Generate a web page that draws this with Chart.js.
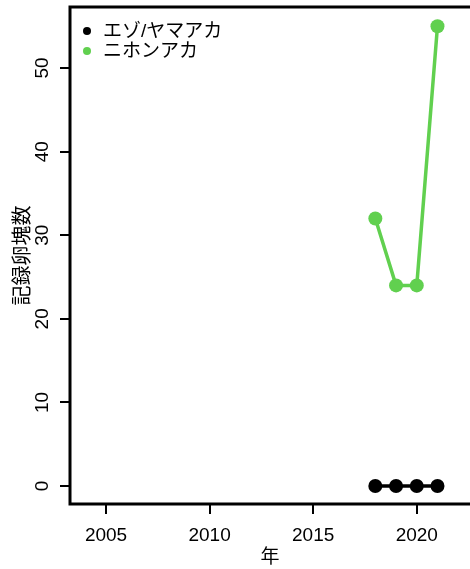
<!DOCTYPE html>
<html>
<head>
<meta charset="utf-8">
<script src="https://cdn.jsdelivr.net/npm/chart.js@4/dist/chart.umd.min.js"></script>
<style>
  body { margin: 0; background: #fff; }
  canvas { display: block; }
</style>
</head>
<body>
<canvas id="myChart" width="470" height="569"></canvas>
<script>
const years = [2018, 2019, 2020, 2021];
const ezoYamaaka = [0, 0, 0, 0];
const nihonAkagaeru = [32, 24, 24, 55];
const seriesNames = ["エゾ/ヤマアカ", "ニホンアカ"];
const seriesColors = ["#000000", "#61D04F"];
const xTicks = [2005, 2010, 2015, 2020];
const yTicks = [0, 10, 20, 30, 40, 50];

const font = "'Liberation Sans', 'Noto Sans CJK JP', sans-serif";

function toPoints(vals) {
    return years.map((y, i) => ({ x: y, y: vals[i] }));
}

// box on left, top, bottom + rotated y labels + legend
const rPlot = {
    id: "rPlot",
    afterDraw(chart) {
        const ctx = chart.ctx;
        const a = chart.chartArea;
        ctx.save();
        ctx.strokeStyle = "#000";
        ctx.lineWidth = 3;
        ctx.beginPath();
        ctx.moveTo(a.right + 2, a.top);
        ctx.lineTo(a.left, a.top);
        ctx.lineTo(a.left, a.bottom);
        ctx.lineTo(a.right + 2, a.bottom);
        ctx.stroke();

        // y tick labels, rotated like R
        const ys = chart.scales.y;
        ctx.fillStyle = "#000";
        ctx.font = "19px " + font;
        ctx.textAlign = "center";
        ctx.textBaseline = "middle";
        yTicks.forEach(v => {
            ctx.save();
            ctx.translate(43, ys.getPixelForValue(v));
            ctx.rotate(-Math.PI / 2);
            ctx.fillText(String(v), 0, 0);
            ctx.restore();
        });

        // legend
        ctx.textAlign = "left";
        seriesNames.forEach((name, i) => {
            const ly = 31 + i * 20;
            ctx.fillStyle = seriesColors[i];
            ctx.beginPath();
            ctx.arc(87, ly, 4, 0, Math.PI * 2);
            ctx.fill();
            ctx.fillStyle = "#000";
            ctx.fillText(name, 103, ly + 1);
        });
        ctx.restore();
    }
};

let ctx = document.getElementById("myChart");
let myChart = new Chart(ctx, {
    type: "line",
    data: {
        datasets: [
            {
                label: seriesNames[0],
                data: toPoints(ezoYamaaka),
                borderColor: seriesColors[0],
                backgroundColor: seriesColors[0],
                borderWidth: 3.5,
                pointRadius: 7,
                pointHoverRadius: 7,
                pointBorderWidth: 0
            },
            {
                label: seriesNames[1],
                data: toPoints(nihonAkagaeru),
                borderColor: seriesColors[1],
                backgroundColor: seriesColors[1],
                borderWidth: 3.5,
                pointRadius: 7,
                pointHoverRadius: 7,
                pointBorderWidth: 0
            }
        ]
    },
    options: {
        responsive: false,
        animation: false,
        layout: { autoPadding: false, padding: { top: 7, left: 0, right: 0, bottom: 0 } },
        plugins: { legend: { display: false }, tooltip: { enabled: false } },
        scales: {
            x: {
                type: "linear",
                min: 2003.26,
                max: 2022.57,
                afterBuildTicks: s => { s.ticks = xTicks.map(v => ({ value: v })); },
                afterFit: s => { s.height = 65; },
                border: { display: false },
                grid: { drawOnChartArea: false, drawTicks: true, tickLength: 10, color: "#000", lineWidth: 2 },
                ticks: {
                    color: "#000",
                    font: { size: 19, family: font },
                    padding: 10,
                    maxRotation: 0,
                    callback: v => String(v)
                },
                title: {
                    display: true,
                    text: "年",
                    color: "#000",
                    font: { size: 19, family: font },
                    padding: { top: 0, bottom: 0 }
                }
            },
            y: {
                type: "linear",
                min: -2.15,
                max: 57.3,
                afterBuildTicks: s => { s.ticks = yTicks.map(v => ({ value: v })); },
                afterFit: s => { s.width = 70; },
                border: { display: false },
                grid: { drawOnChartArea: false, drawTicks: true, tickLength: 10, color: "#000", lineWidth: 2 },
                ticks: { display: false },
                title: {
                    display: true,
                    text: "記録卵塊数",
                    color: "#000",
                    font: { size: 20, family: font },
                    padding: { top: 11, bottom: 0 }
                }
            }
        }
    },
    plugins: [rPlot]
});
</script>
</body>
</html>
